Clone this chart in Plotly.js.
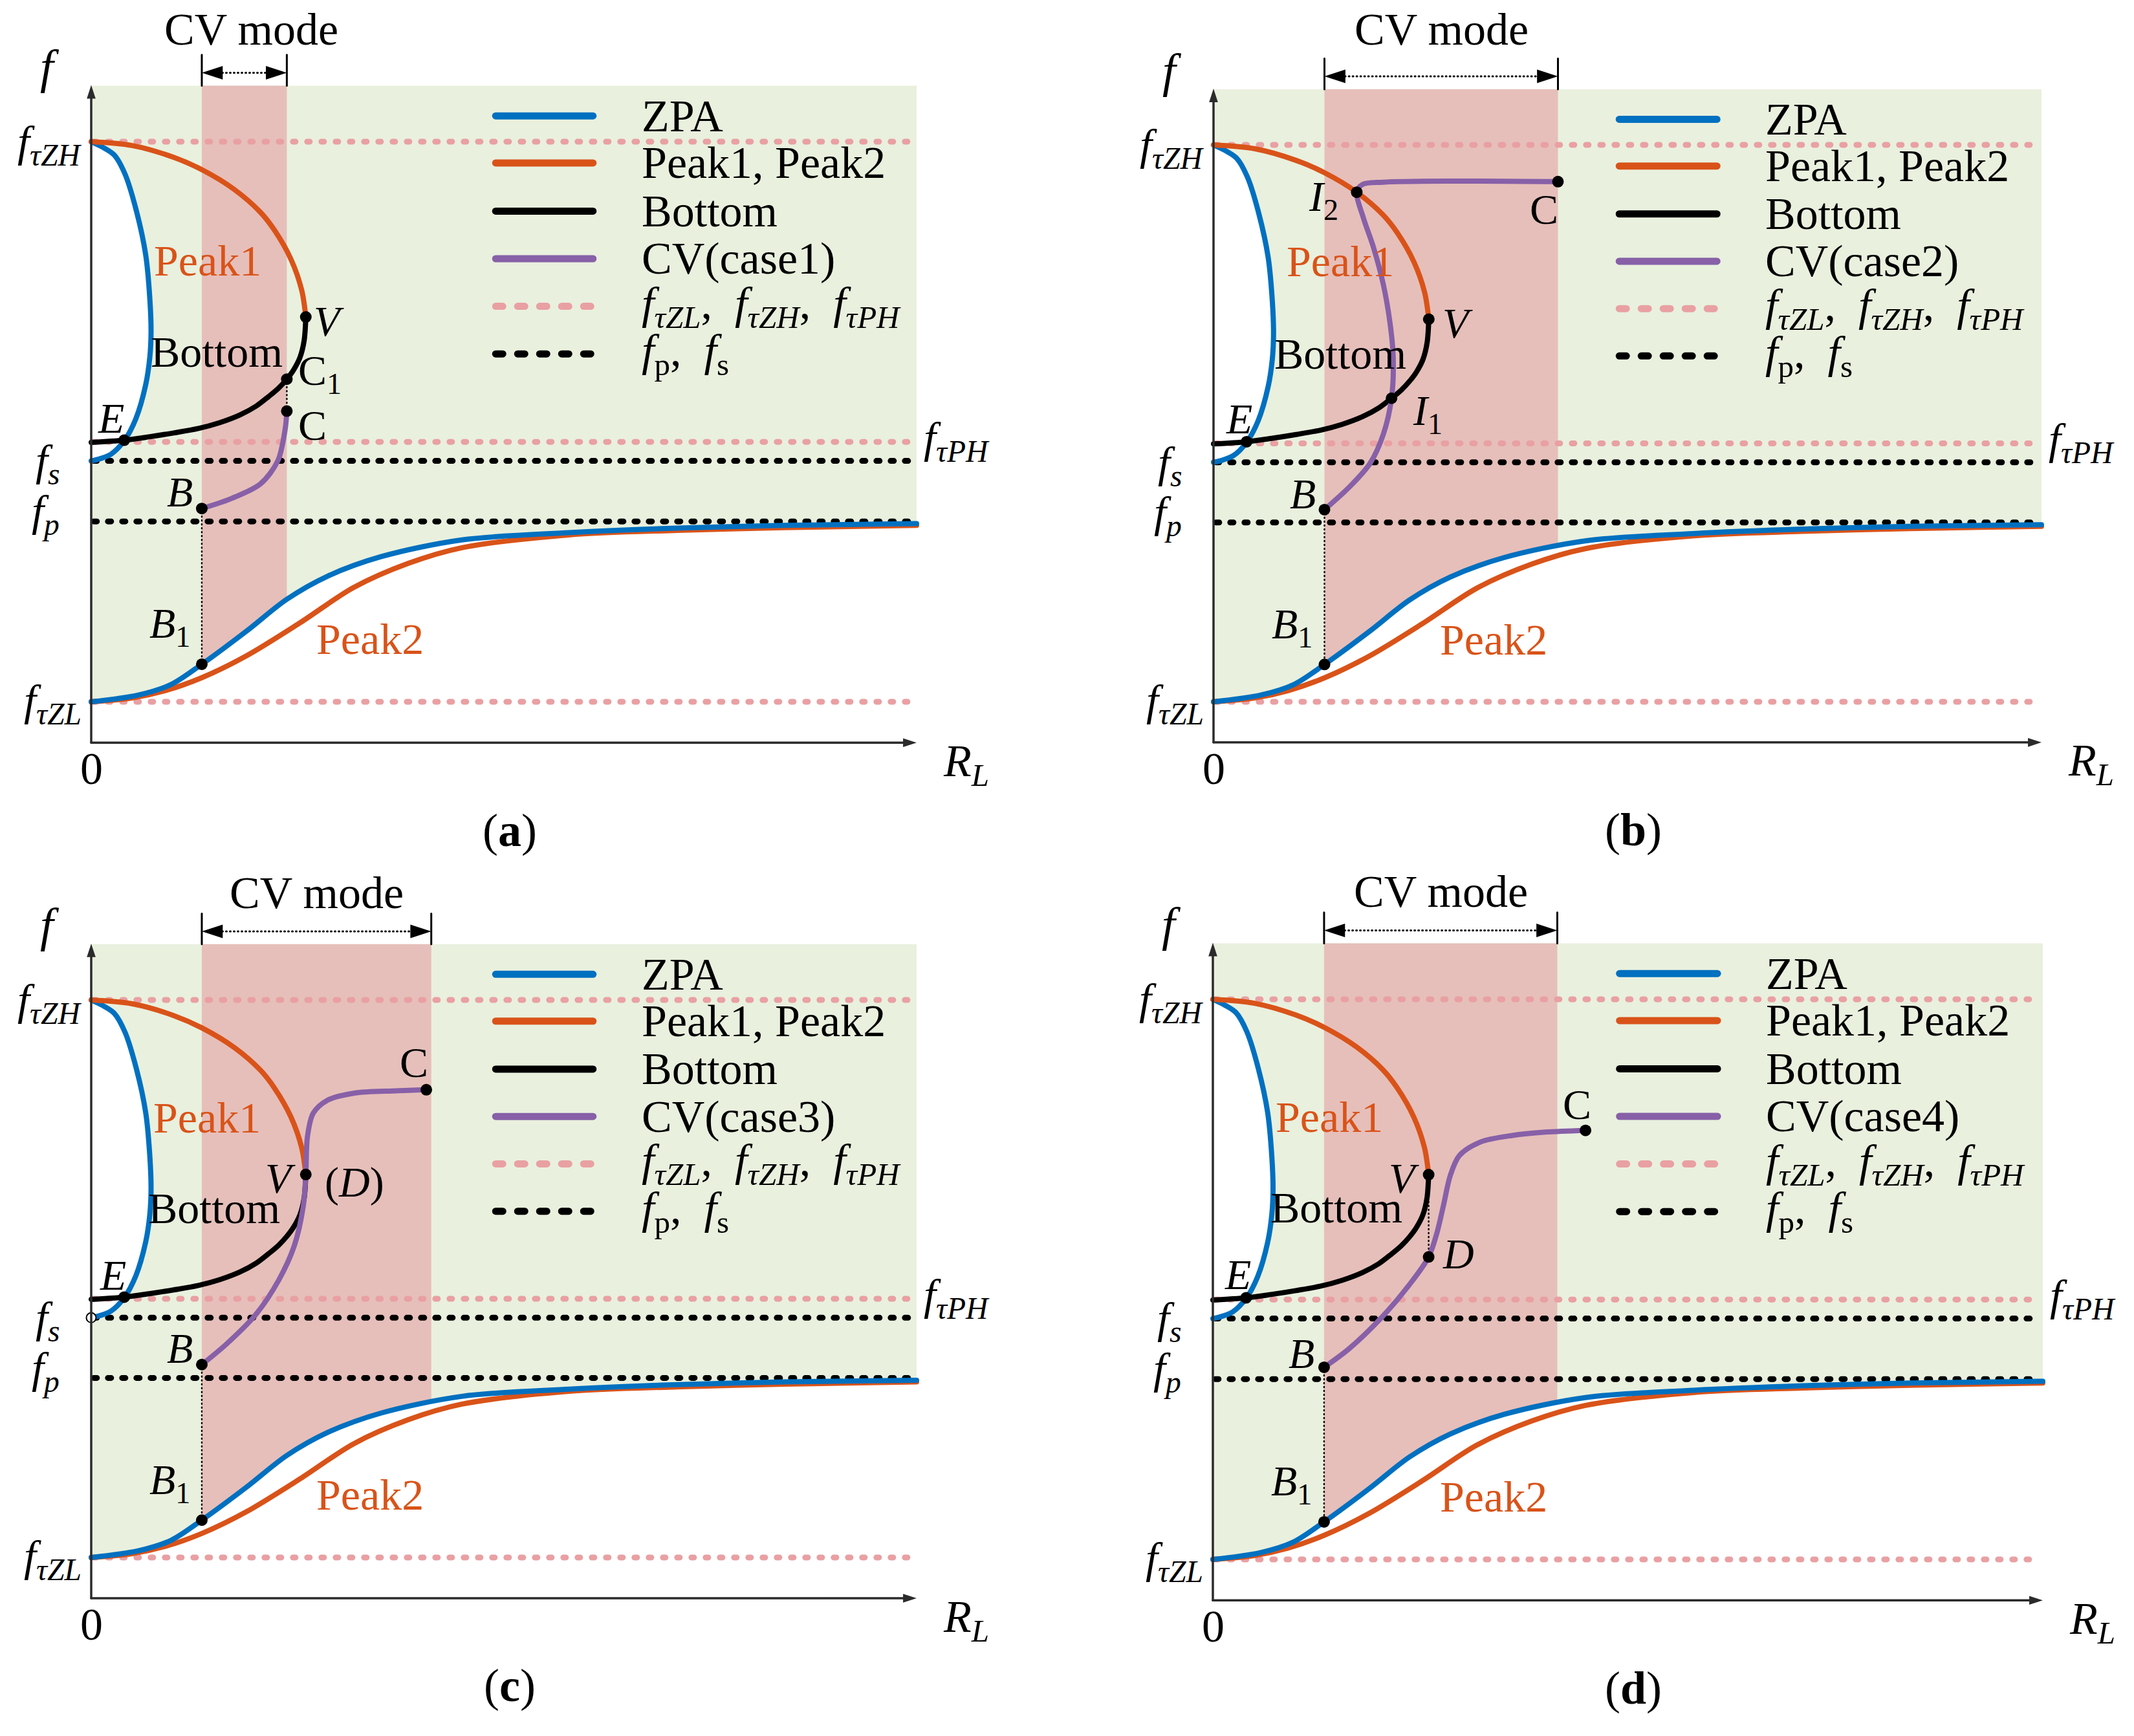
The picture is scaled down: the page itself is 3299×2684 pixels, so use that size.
<!DOCTYPE html>
<html><head><meta charset="utf-8">
<script src="https://cdn.plot.ly/plotly-3.0.1.min.js"></script>
<style>html,body{margin:0;padding:0;background:#fff}</style>
</head><body>
<div id="chart" style="width:3299px;height:2684px"></div>
<script>
// ================= DATA (normalised: fτZL = 0, fτZH = 10; RL from 0 to 10) =================
const fTauZL = 0, fTauZH = 10, fTauPH = 4.64, fP = 3.22, fS = 4.30;
const levelValues = [fTauZL, fTauZH, fTauPH, fP, fS];

// ZPA upper branch (loop from fτZH down to fs)
const zpaUpperX = [0, 0.14, 0.28, 0.41, 0.55, 0.66, 0.71, 0.725, 0.71, 0.66, 0.54, 0.40, 0.24, 0.11, 0];
const zpaUpperY = [10, 9.90, 9.76, 9.42, 8.75, 7.98, 7.20, 6.60, 6.15, 5.66, 5.05, 4.66, 4.42, 4.34, 4.30];
// ZPA lower branch
const zpaLowerX = [0, 0.57, 0.97, 1.34, 1.88, 2.37, 2.86, 3.51, 4.49, 5.79, 7.10, 8.40, 10.0];
const zpaLowerY = [0, 0.12, 0.31, 0.67, 1.26, 1.83, 2.24, 2.59, 2.89, 3.02, 3.10, 3.15, 3.18];
// Peak1 (upper orange)
const peak1X = [0, 0.5, 1.0, 1.34, 1.73, 2.05, 2.22, 2.42, 2.55, 2.60];
const peak1Y = [10, 9.93, 9.72, 9.50, 9.15, 8.74, 8.42, 7.90, 7.35, 6.87];
// Peak2 (lower orange)
const peak2X = [0, 0.5, 0.90, 1.34, 1.88, 2.53, 3.18, 3.84, 4.49, 5.79, 7.10, 8.40, 10.0];
const peak2Y = [0, 0.07, 0.20, 0.43, 0.82, 1.41, 2.04, 2.47, 2.75, 2.98, 3.06, 3.11, 3.15];
// Bottom (black)
const bottomX = [2.60, 2.58, 2.53, 2.45, 2.37, 2.27, 2.15, 2.00, 1.80, 1.55, 1.30, 1.00, 0.70, 0.40, 0];
const bottomY = [6.87, 6.45, 6.15, 5.92, 5.76, 5.60, 5.45, 5.28, 5.12, 4.98, 4.88, 4.80, 4.73, 4.67, 4.63];

// CV curves, one per case
const cvCase1X = [1.34, 1.70, 2.05, 2.26, 2.35, 2.37];
const cvCase1Y = [3.45, 3.63, 3.89, 4.30, 4.87, 5.19];
const cvCase2X = [1.34, 1.65, 1.89, 2.05, 2.15, 2.17, 2.13, 2.05, 1.93, 1.81, 1.73, 1.80, 2.05, 2.85, 4.16];
const cvCase2Y = [3.45, 3.87, 4.28, 4.80, 5.45, 6.20, 6.82, 7.50, 8.17, 8.69, 9.15, 9.29, 9.33, 9.35, 9.34];
const cvCase3X = [1.34, 1.64, 1.99, 2.27, 2.46, 2.57, 2.60, 2.62, 2.69, 2.86, 3.19, 3.70, 4.06];
const cvCase3Y = [3.46, 3.83, 4.35, 4.97, 5.59, 6.31, 6.87, 7.55, 7.97, 8.20, 8.33, 8.37, 8.39];
const cvCase4X = [1.34, 1.64, 2.04, 2.36, 2.60, 2.70, 2.78, 2.86, 2.97, 3.22, 3.61, 4.01, 4.49];
const cvCase4Y = [3.43, 3.76, 4.33, 4.89, 5.40, 5.83, 6.33, 6.85, 7.21, 7.45, 7.57, 7.63, 7.66];

// CV-mode load range per case
const bandCase1 = [1.34, 2.37];
const bandCase2 = [1.34, 4.16];
const bandCase3 = [1.34, 4.12];
const bandCase4 = [1.34, 4.15];

// Marked points per case
const ptsCase1Names = ['E', 'B', 'B1', 'V', 'C1', 'C'];
const ptsCase1X = [0.40, 1.34, 1.34, 2.60, 2.37, 2.37];
const ptsCase1Y = [4.67, 3.45, 0.67, 6.87, 5.76, 5.19];
const ptsCase2Names = ['E', 'B', 'B1', 'V', 'I1', 'I2', 'C'];
const ptsCase2X = [0.40, 1.34, 1.34, 2.60, 2.15, 1.73, 4.16];
const ptsCase2Y = [4.67, 3.45, 0.67, 6.87, 5.45, 9.15, 9.34];
const ptsCase3Names = ['E', 'B', 'B1', 'V', 'C'];
const ptsCase3X = [0.40, 1.34, 1.34, 2.60, 4.06];
const ptsCase3Y = [4.67, 3.46, 0.67, 6.87, 8.39];
const ptsCase4Names = ['E', 'B', 'B1', 'V', 'D', 'C'];
const ptsCase4X = [0.40, 1.34, 1.34, 2.60, 2.60, 4.49];
const ptsCase4Y = [4.67, 3.43, 0.67, 6.87, 5.40, 7.66];

// dotted vertical connectors between named points
const linksCase1 = [['B', 'B1'], ['C1', 'C']];
const linksCase2 = [['B', 'B1']];
const linksCase3 = [['B', 'B1']];
const linksCase4 = [['B', 'B1'], ['V', 'D']];

const panelLetters = ['a', 'b', 'c', 'd'];
const cvNames = ['CV(case1)', 'CV(case2)', 'CV(case3)', 'CV(case4)'];
const legendNames = ['ZPA', 'Peak1, Peak2', 'Bottom', null,
  '<i>f</i><sub><i>τZL</i></sub>,\u00a0 <i>f</i><sub><i>τZH</i></sub>,\u00a0 <i>f</i><sub><i>τPH</i></sub>',
  '<i>f</i><sub>p</sub>,\u00a0 <i>f</i><sub>s</sub>'];

// ================= STYLE / LAYOUT =================
const W = 3299, H = 2684;
const FONT = '"Liberation Serif", "DejaVu Serif", serif';
const C_BLUE = '#0070C0', C_ORANGE = '#D95319', C_PURPLE = '#8760A8', C_PINK = '#E9A0A3',
      C_BLACK = '#000000', C_AXIS = '#2B2B2B', C_GREEN = '#E9F0DE', C_BAND = '#E6BFBA';
const XR = [-1.0, 10.9], YR = [-2.8, 12.3];
const XEND = 10.0, TOP = 11.0, XAXIS_Y = -0.73;
const CURVE_W = 8;

const panels = [
  {cal: {x0: 141, x10: 1417, y0: 1085, y10: 219}, cvX: cvCase1X, cvY: cvCase1Y, band: bandCase1,
   names: ptsCase1Names, px: ptsCase1X, py: ptsCase1Y, links: linksCase1, cvTextX: 1.94, cvTextY: 12.0},
  {cal: {x0: 1876, x10: 3156, y0: 1085, y10: 224}, cvX: cvCase2X, cvY: cvCase2Y, band: bandCase2,
   names: ptsCase2Names, px: ptsCase2X, py: ptsCase2Y, links: linksCase2, cvTextY: 12.07},
  {cal: {x0: 141, x10: 1417, y0: 2408, y10: 1546}, cvX: cvCase3X, cvY: cvCase3Y, band: bandCase3,
   names: ptsCase3Names, px: ptsCase3X, py: ptsCase3Y, links: linksCase3, openFs: true, cvTextY: 11.92},
  {cal: {x0: 1875, x10: 3158, y0: 2411, y10: 1545}, cvX: cvCase4X, cvY: cvCase4Y, band: bandCase4,
   names: ptsCase4Names, px: ptsCase4X, py: ptsCase4Y, links: linksCase4, cvTextY: 11.92}
];

const labelsByPanel = [
  [
    {t: 'Peak1', x: 1.41, y: 7.88, c: C_ORANGE, s: 68},
    {t: 'Bottom', x: 1.52, y: 6.25, s: 68},
    {t: '<i>V</i>', x: 2.68, y: 6.80, xa: 'left'},
    {t: 'C<sub>1</sub>', x: 2.49, y: 5.86, xa: 'left'},
    {t: 'C', x: 2.49, y: 4.94, xa: 'left'},
    {t: '<i>E</i>', x: 0.24, y: 5.06},
    {t: '<i>B</i>', x: 1.07, y: 3.75}
  ],
  [
    {t: 'Peak1', x: 1.53, y: 7.91, c: C_ORANGE, s: 68},
    {t: 'Bottom', x: 1.53, y: 6.25, s: 68},
    {t: '<i>I</i><sub>2</sub>', x: 1.33, y: 9.02},
    {t: 'C', x: 3.99, y: 8.84},
    {t: '<i>V</i>', x: 2.75, y: 6.80, xa: 'left'},
    {t: '<i>I</i><sub>1</sub>', x: 2.39, y: 5.18, xa: 'left'},
    {t: '<i>E</i>', x: 0.31, y: 5.08},
    {t: '<i>B</i>', x: 1.08, y: 3.73}
  ],
  [
    {t: 'Peak1', x: 1.40, y: 7.89, c: C_ORANGE, s: 68},
    {t: 'Bottom', x: 1.49, y: 6.26, s: 68},
    {t: '<i>V</i>', x: 2.29, y: 6.80},
    {t: '(<i>D</i>)', x: 3.19, y: 6.73},
    {t: 'C', x: 3.91, y: 8.88},
    {t: '<i>E</i>', x: 0.26, y: 5.06},
    {t: '<i>B</i>', x: 1.07, y: 3.75}
  ],
  [
    {t: 'Peak1', x: 1.40, y: 7.90, c: C_ORANGE, s: 68},
    {t: 'Bottom', x: 1.49, y: 6.28, s: 68},
    {t: '<i>V</i>', x: 2.30, y: 6.81},
    {t: '<i>D</i>', x: 2.75, y: 5.46, xa: 'left'},
    {t: 'C', x: 4.39, y: 8.12},
    {t: '<i>E</i>', x: 0.30, y: 5.09},
    {t: '<i>B</i>', x: 1.07, y: 3.68}
  ]
];

const commonLabels = [
  {t: '<i>f</i>', x: -0.5, y: 11.34, s: 74},
  {t: '<i>f</i><sub><i>τZH</i></sub>', x: -0.1, y: 9.95, xa: 'right', s: 68},
  {t: '<i>f</i><sub><i>s</i></sub>', x: -0.37, y: 4.25, xa: 'right', s: 68},
  {t: '<i>f</i><sub><i>p</i></sub>', x: -0.37, y: 3.35, xa: 'right', s: 68},
  {t: '<i>f</i><sub><i>τZL</i></sub>', x: -0.1, y: -0.03, xa: 'right', s: 68},
  {t: '<i>f</i><sub><i>τPH</i></sub>', x: 10.07, y: 4.66, xa: 'left', s: 68},
  {t: '0', x: 0, y: -1.20, s: 70},
  {t: '<i>R</i><sub><i>L</i></sub>', x: 10.6, y: -1.12, s: 70},
  {t: 'Peak2', x: 3.38, y: 1.12, c: C_ORANGE, s: 68},
  {t: '<i>B</i><sub>1</sub>', x: 0.95, y: 1.34}
];

const legendRowsY = [10.46, 9.62, 8.76, 7.91, 7.06, 6.21];
const legendLineX = [4.90, 6.08], legendTextX = 6.65;
// round caps are applied after drawing, so dash "on" lengths exclude the cap width
const legendStyles = [
  {color: C_BLUE, dash: 'solid'}, {color: C_ORANGE, dash: 'solid'}, {color: C_BLACK, dash: 'solid'},
  {color: C_PURPLE, dash: 'solid'}, {color: C_PINK, dash: '11px,23px'}, {color: C_BLACK, dash: '11px,23px'}
];
const levelStyles = [
  {color: C_PINK, dash: '4px,18px'}, {color: C_PINK, dash: '4px,18px'}, {color: C_PINK, dash: '4px,18px'},
  {color: C_BLACK, dash: '5px,17px'}, {color: C_BLACK, dash: '5px,17px'}
];

const layout = {
  width: W, height: H, margin: {l: 0, r: 0, t: 0, b: 0, pad: 0},
  paper_bgcolor: '#ffffff', plot_bgcolor: 'rgba(0,0,0,0)',
  showlegend: false, hovermode: false, font: {family: FONT, color: '#000'},
  shapes: [], annotations: []
};
const traces = [];

panels.forEach((p, i) => {
  const s = i === 0 ? '' : String(i + 1);
  const xr = 'x' + s, yr = 'y' + s;
  const c = p.cal;
  const sx = (c.x10 - c.x0) / 10, sy = (c.y0 - c.y10) / 10;
  layout['xaxis' + s] = {domain: [(c.x0 + XR[0] * sx) / W, (c.x0 + XR[1] * sx) / W], range: XR,
    visible: false, fixedrange: true, anchor: yr};
  layout['yaxis' + s] = {domain: [1 - (c.y0 - YR[0] * sy) / H, 1 - (c.y0 - YR[1] * sy) / H], range: YR,
    visible: false, fixedrange: true, anchor: xr};
  const base = {xaxis: xr, yaxis: yr, hoverinfo: 'skip', showlegend: false};

  // background regions
  layout.shapes.push({type: 'rect', xref: xr, yref: yr, x0: 0, x1: XEND, y0: 0, y1: TOP,
    fillcolor: C_GREEN, line: {width: 0}, layer: 'below'});
  layout.shapes.push({type: 'rect', xref: xr, yref: yr, x0: p.band[0], x1: p.band[1], y0: 0, y1: TOP,
    fillcolor: C_BAND, line: {width: 0}, layer: 'below'});

  // white areas (below ZPA lower branch, inside ZPA loop)
  traces.push(Object.assign({}, base, {x: zpaLowerX, y: zpaLowerY, mode: 'lines',
    line: {width: 0, shape: 'spline', color: 'rgba(0,0,0,0)'}, fill: 'tozeroy', fillcolor: '#ffffff'}));
  traces.push(Object.assign({}, base, {x: zpaUpperX, y: zpaUpperY, mode: 'lines',
    line: {width: 0, shape: 'spline', color: 'rgba(0,0,0,0)'}, fill: 'toself', fillcolor: '#ffffff'}));

  // reference levels
  levelValues.forEach((v, k) => {
    traces.push(Object.assign({}, base, {x: [0.03, XEND - 0.03], y: [v, v], mode: 'lines',
      line: {color: levelStyles[k].color, width: 9, dash: levelStyles[k].dash}}));
  });

  // dotted connectors
  const idx = n => p.names.indexOf(n);
  p.links.forEach(([a, b]) => {
    traces.push(Object.assign({}, base, {x: [p.px[idx(a)], p.px[idx(b)]], y: [p.py[idx(a)], p.py[idx(b)]],
      mode: 'lines', line: {color: C_BLACK, width: 2.5, dash: '1px,5px'}}));
  });

  // curves
  const curve = (x, y, color) => Object.assign({}, base, {x, y, mode: 'lines',
    line: {color, width: CURVE_W, shape: 'spline', smoothing: 0.9}});
  traces.push(curve(peak2X, peak2Y, C_ORANGE));
  traces.push(curve(zpaLowerX, zpaLowerY, C_BLUE));
  traces.push(curve(zpaUpperX, zpaUpperY, C_BLUE));
  traces.push(curve(peak1X, peak1Y, C_ORANGE));
  traces.push(curve(bottomX, bottomY, C_BLACK));
  traces.push(curve(p.cvX, p.cvY, C_PURPLE));

  // points
  traces.push(Object.assign({}, base, {x: p.px, y: p.py, mode: 'markers', cliponaxis: false,
    marker: {size: 18, color: C_BLACK}}));
  if (p.openFs) {
    traces.push(Object.assign({}, base, {x: [0], y: [fS], mode: 'markers', cliponaxis: false,
      marker: {size: 15, color: '#ffffff', line: {color: C_BLACK, width: 2}}}));
  }

  // axes
  layout.shapes.push({type: 'line', xref: xr, yref: yr, x0: 0, x1: 0, y0: XAXIS_Y, y1: TOP - 0.1,
    line: {color: C_AXIS, width: 3.5}, layer: 'above'});
  layout.shapes.push({type: 'line', xref: xr, yref: yr, x0: 0, x1: XEND - 0.1, y0: XAXIS_Y, y1: XAXIS_Y,
    line: {color: C_AXIS, width: 3.5}, layer: 'above'});
  traces.push(Object.assign({}, base, {x: [0], y: [TOP + 0.01], mode: 'markers', cliponaxis: false,
    marker: {symbol: 'arrow', angle: 0, size: 22, color: C_AXIS, line: {width: 0}}}));
  traces.push(Object.assign({}, base, {x: [XEND], y: [XAXIS_Y], mode: 'markers', cliponaxis: false,
    marker: {symbol: 'arrow', angle: 90, size: 22, color: C_AXIS, line: {width: 0}}}));

  // CV mode dimension
  p.band.forEach(bx => layout.shapes.push({type: 'line', xref: xr, yref: yr, x0: bx, x1: bx, y0: TOP, y1: 11.55,
    line: {color: C_BLACK, width: 3}, layer: 'above'}));
  layout.shapes.push({type: 'line', xref: xr, yref: yr, x0: p.band[0] + 0.2, x1: p.band[1] - 0.2, y0: 11.23, y1: 11.23,
    line: {color: C_BLACK, width: 3, dash: '1px,5px'}, layer: 'above'});
  traces.push(Object.assign({}, base, {x: [p.band[0], p.band[1]], y: [11.23, 11.23], mode: 'markers', cliponaxis: false,
    marker: {symbol: 'arrow', angle: [270, 90], size: 34, color: C_BLACK, line: {width: 0}}}));
  const cvx = p.cvTextX !== undefined ? p.cvTextX : (p.band[0] + p.band[1]) / 2;
  layout.annotations.push({xref: xr, yref: yr, x: cvx, y: p.cvTextY, text: 'CV mode', showarrow: false,
    font: {family: FONT, size: 70, color: C_BLACK}, xanchor: 'center', yanchor: 'middle'});

  // legend
  legendRowsY.forEach((ly, k) => {
    layout.shapes.push({type: 'line', xref: xr, yref: yr, x0: legendLineX[0], x1: legendLineX[1], y0: ly, y1: ly,
      line: {color: legendStyles[k].color, width: 11, dash: legendStyles[k].dash}, layer: 'above'});
    const txt = legendNames[k] === null ? cvNames[i] : legendNames[k];
    layout.annotations.push({xref: xr, yref: yr, x: legendTextX, y: ly, text: txt, showarrow: false,
      font: {family: FONT, size: 70, color: C_BLACK}, xanchor: 'left', yanchor: 'middle'});
  });

  // labels
  commonLabels.concat(labelsByPanel[i]).forEach(l => {
    layout.annotations.push({xref: xr, yref: yr, x: l.x, y: l.y, text: l.t, showarrow: false,
      font: {family: FONT, size: l.s || 66, color: l.c || C_BLACK},
      xanchor: l.xa || 'center', yanchor: 'middle'});
  });
  layout.annotations.push({xref: xr, yref: yr, x: 5.07, y: -2.30, text: '(<b>' + panelLetters[i] + '</b>)',
    showarrow: false, font: {family: FONT, size: 72, color: C_BLACK}, xanchor: 'center', yanchor: 'middle'});
});

Plotly.newPlot('chart', traces, layout, {displayModeBar: false, staticPlot: true}).then(gd => {
  // rounded line ends, as in the reference drawing
  gd.querySelectorAll('.scatterlayer path.js-line, .shapelayer path').forEach(el => {
    el.style.strokeLinecap = 'round';
  });
});
</script>
</body></html>
